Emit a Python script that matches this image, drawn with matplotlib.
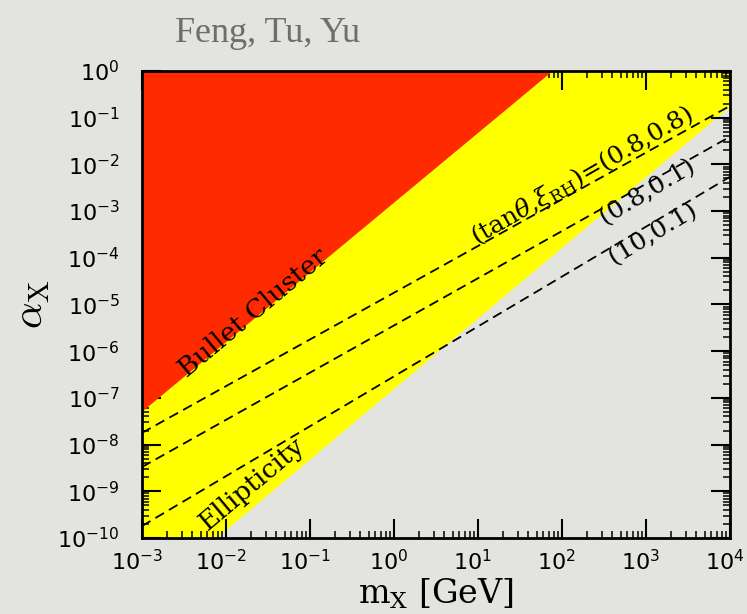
import numpy as np
import matplotlib
matplotlib.use("Agg")
import matplotlib.pyplot as plt
from matplotlib.ticker import LogLocator, NullFormatter
from matplotlib.transforms import ScaledTranslation

# ---- data ----
x_limits = [1e-3, 1e4]
y_limits = [1e-10, 1.0]

# Bullet Cluster boundary (excluded above)
bullet_m = [1e-3, 78.0]
bullet_alpha = [5.0e-8, 1.0]

# Ellipticity boundary (excluded above)
ellip_m = [7.8e-3, 1e4]
ellip_alpha = [1e-10, 0.17]

# relic-density dashed lines, (tan theta, xi_RH)
line_m = [1e-3, 1e4]
line_08_08 = [1.78e-8, 0.178]
line_08_01 = [3.3e-9, 0.039]
line_10_01 = [1.8e-10, 5.4e-3]

BG = "#e3e3df"
RED = "#ff2a00"
YELLOW = "#ffff00"


def powerlaw(m_pts, a_pts, m_eval):
    lm = np.log10(m_pts)
    la = np.log10(a_pts)
    s = (la[1] - la[0]) / (lm[1] - lm[0])
    return 10 ** (la[0] + s * (np.log10(m_eval) - lm[0]))


fig = plt.figure(figsize=(7.47, 6.14), dpi=100, facecolor=BG)
ax = fig.add_axes([0.190, 0.1238, 0.787, 0.7606])
ax.set_facecolor(BG)
ax.set_xscale("log")
ax.set_yscale("log")

xs = np.array(x_limits)
top = 1e6
# yellow: above ellipticity bound
ax.fill_between(xs, powerlaw(ellip_m, ellip_alpha, xs), top, color=YELLOW, lw=0, zorder=1)
# red: above Bullet Cluster bound
ax.fill_between(xs, powerlaw(bullet_m, bullet_alpha, xs), top, color=RED, lw=0, zorder=2)

for vals in (line_08_08, line_08_01, line_10_01):
    ax.plot(line_m, vals, color="black", lw=1.3, dashes=(5.5, 3.2), zorder=3)

ax.set_xlim(*x_limits)
ax.set_ylim(*y_limits)

ax.xaxis.set_major_locator(LogLocator(base=10, numticks=20))
ax.yaxis.set_major_locator(LogLocator(base=10, numticks=20))
ax.xaxis.set_minor_locator(LogLocator(base=10, subs=np.arange(2, 10), numticks=200))
ax.yaxis.set_minor_locator(LogLocator(base=10, subs=np.arange(2, 10), numticks=200))
ax.xaxis.set_minor_formatter(NullFormatter())
ax.yaxis.set_minor_formatter(NullFormatter())

ax.tick_params(which="both", direction="in", top=True, right=True, colors="black")
ax.tick_params(which="major", length=14, width=1.5, labelsize=16)
ax.tick_params(which="minor", length=5, width=1.1)
ax.tick_params(axis="y", which="major", pad=16)
ax.tick_params(axis="x", which="major", pad=8)
for sp in ax.spines.values():
    sp.set_linewidth(2.0)
    sp.set_zorder(5)

serif = ["DejaVu Serif"]
ax.set_xlabel(r"m$_{\mathrm{X}}$ [GeV]", fontsize=24, family=serif,
              math_fontfamily="dejavuserif", labelpad=2)
ax.set_ylabel(r"$\alpha_{\mathrm{X}}$", fontsize=30, math_fontfamily="cm",
              labelpad=4)

ax.text(0.021, 10 ** -5.18, "Bullet Cluster", rotation=39.8, fontsize=19,
        family=serif, ha="center", va="center", rotation_mode="anchor", zorder=4)
ax.text(10 ** -1.69, 10 ** -8.84, "Ellipticity", rotation=40, fontsize=19,
        family=serif, ha="center", va="center", rotation_mode="anchor", zorder=4)
ax.text(10 ** 2.24, 10 ** -2.25, r"(tan$\theta$,$\xi_{\mathrm{RH}}$)=(0.8,0.8)",
        rotation=30, fontsize=18, family=serif, math_fontfamily="dejavuserif",
        ha="center", va="center", rotation_mode="anchor", zorder=4)
ax.text(10 ** 3.02, 10 ** -2.59, "(0.8,0.1)", rotation=31, fontsize=18,
        family=serif, ha="center", va="center", rotation_mode="anchor", zorder=4)
ax.text(10 ** 3.08, 10 ** -3.49, "(10,0.1)", rotation=31, fontsize=18,
        family=serif, ha="center", va="center", rotation_mode="anchor", zorder=4)

fig.text(268 / 747, 1 - 33 / 614, "Feng, Tu, Yu", fontsize=26,
         family=["Liberation Serif"], color="#6e6e6e", ha="center", va="center")

fig.canvas.draw()
shift = ScaledTranslation(-5 / 100, 0, fig.dpi_scale_trans)
for tick in ax.xaxis.get_major_ticks():
    tick.label1.set_transform(tick.label1.get_transform() + shift)
for lab in ax.get_xticklabels() + ax.get_yticklabels():
    lab.set_math_fontfamily("dejavusans")

fig.savefig("out.png", dpi=100, facecolor=BG)
